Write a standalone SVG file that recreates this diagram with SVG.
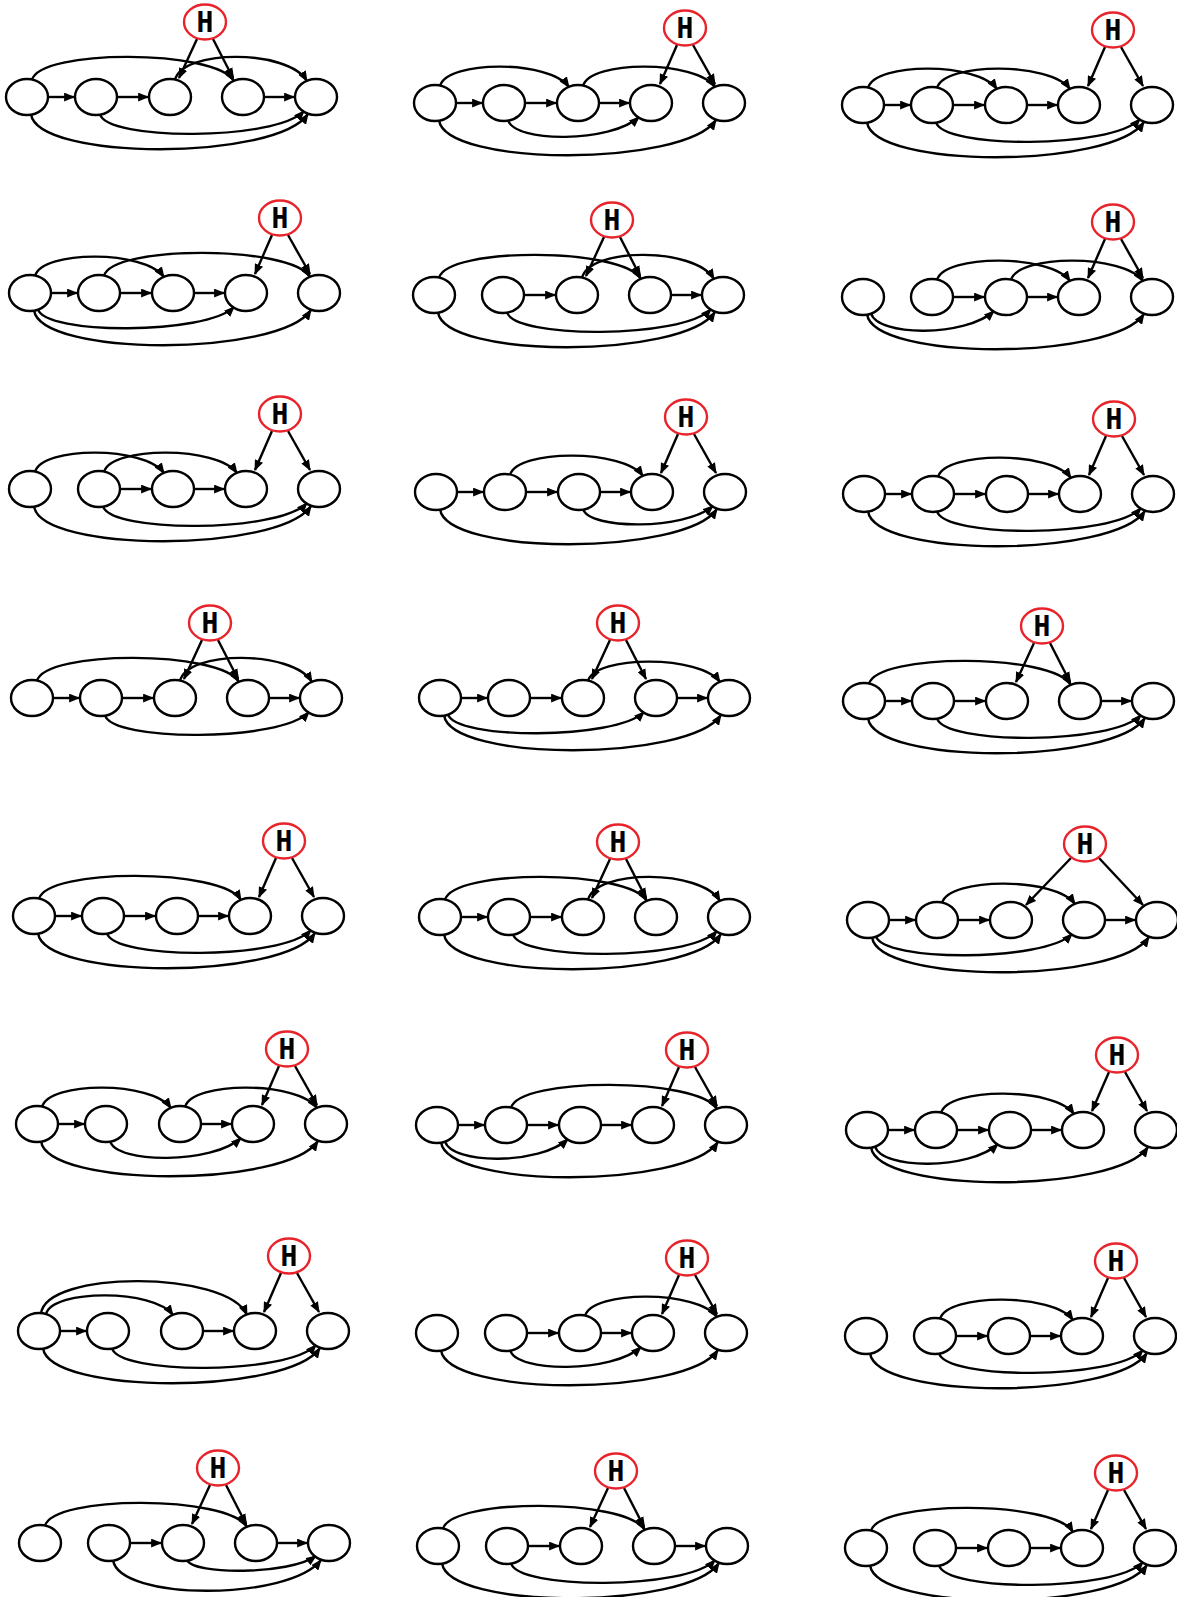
<svg xmlns="http://www.w3.org/2000/svg" width="1177" height="1597" viewBox="0 0 1177 1597">
<style>
.n{fill:#fff;stroke:#000;stroke-width:2.4}
.h{fill:#fff;stroke:#e8232a;stroke-width:2.4}
.e{fill:none;stroke:#000;stroke-width:2.4;marker-end:url(#ah)}
.t{font-family:"DejaVu Sans Mono",monospace;font-weight:bold;font-size:28px;text-anchor:middle;fill:#000}
</style>
<defs>
<marker id="ah" viewBox="0 0 10 8" refX="9" refY="4" markerWidth="11" markerHeight="9" markerUnits="userSpaceOnUse" orient="auto"><path d="M0,0 L10,4 L0,8 z" fill="#000"/></marker>
</defs>
<rect width="1177" height="1597" fill="#fff"/>

<!-- P1 -->
<g id="p1" transform="translate(27,97)">
<g id="p1-edges">
<path class="e" d="M21,0H47"/><path class="e" d="M90,0H121"/><path class="e" d="M237,0H267"/>
<path class="e" d="M170,-58L152,-19"/><path class="e" d="M186,-58L206,-19"/>
<path class="e" d="M5,-17C12,-48 188,-48 207,-16"/><path class="e" d="M148,-17C155,-48 261,-48 280,-16"/>
<path class="e" d="M73,17C79,44 249,44 277,14"/><path class="e" d="M4,17C10,64 249,64 281,17"/>
</g>
<g id="p1-a"><ellipse class="n" cx="0" rx="21" ry="18"/></g>
<g id="p1-b"><ellipse class="n" cx="69" rx="21" ry="18"/></g>
<g id="p1-c"><ellipse class="n" cx="143" rx="21" ry="18"/></g>
<g id="p1-d"><ellipse class="n" cx="216" rx="21" ry="18"/></g>
<g id="p1-e"><ellipse class="n" cx="289" rx="21" ry="18"/></g>
<g id="p1-h"><ellipse class="h" cx="178" cy="-75" rx="21" ry="17.5"/><text class="t" x="178" y="-65">H</text></g>
</g>

<!-- P2 -->
<g id="p2" transform="translate(435,103)">
<g id="p2-edges">
<path class="e" d="M21,0H47"/><path class="e" d="M90,0H121"/><path class="e" d="M164,0H194"/>
<path class="e" d="M242,-58L225,-19"/><path class="e" d="M258,-58L280,-19"/>
<path class="e" d="M5,-17C12,-43 115,-43 134,-16"/><path class="e" d="M148,-17C155,-43 261,-43 280,-16"/>
<path class="e" d="M73,17C79,40 176,40 204,14"/><path class="e" d="M4,17C10,64 249,64 281,17"/>
</g>
<g id="p2-a"><ellipse class="n" cx="0" rx="21" ry="18"/></g>
<g id="p2-b"><ellipse class="n" cx="69" rx="21" ry="18"/></g>
<g id="p2-c"><ellipse class="n" cx="143" rx="21" ry="18"/></g>
<g id="p2-d"><ellipse class="n" cx="216" rx="21" ry="18"/></g>
<g id="p2-e"><ellipse class="n" cx="289" rx="21" ry="18"/></g>
<g id="p2-h"><ellipse class="h" cx="250" cy="-75" rx="21" ry="17.5"/><text class="t" x="250" y="-65">H</text></g>
</g>

<!-- P3 -->
<g id="p3" transform="translate(863,105)">
<g id="p3-edges">
<path class="e" d="M21,0H47"/><path class="e" d="M90,0H121"/><path class="e" d="M164,0H194"/>
<path class="e" d="M242,-58L225,-19"/><path class="e" d="M258,-58L280,-19"/>
<path class="e" d="M5,-17C12,-43 115,-43 134,-16"/><path class="e" d="M74,-17C81,-43 188,-43 207,-16"/>
<path class="e" d="M73,17C79,44 249,44 277,14"/><path class="e" d="M4,17C10,64 249,64 281,17"/>
</g>
<g id="p3-a"><ellipse class="n" cx="0" rx="21" ry="18"/></g>
<g id="p3-b"><ellipse class="n" cx="69" rx="21" ry="18"/></g>
<g id="p3-c"><ellipse class="n" cx="143" rx="21" ry="18"/></g>
<g id="p3-d"><ellipse class="n" cx="216" rx="21" ry="18"/></g>
<g id="p3-e"><ellipse class="n" cx="289" rx="21" ry="18"/></g>
<g id="p3-h"><ellipse class="h" cx="250" cy="-75" rx="21" ry="17.5"/><text class="t" x="250" y="-65">H</text></g>
</g>

<!-- P4 -->
<g id="p4" transform="translate(30,293)">
<g id="p4-edges">
<path class="e" d="M21,0H47"/><path class="e" d="M90,0H121"/><path class="e" d="M164,0H194"/>
<path class="e" d="M242,-58L225,-19"/><path class="e" d="M258,-58L280,-19"/>
<path class="e" d="M5,-17C12,-43 115,-43 134,-16"/><path class="e" d="M74,-17C81,-48 261,-48 280,-16"/>
<path class="e" d="M8,16C14,42 176,42 204,14"/><path class="e" d="M4,17C10,64 249,64 281,17"/>
</g>
<g id="p4-a"><ellipse class="n" cx="0" rx="21" ry="18"/></g>
<g id="p4-b"><ellipse class="n" cx="69" rx="21" ry="18"/></g>
<g id="p4-c"><ellipse class="n" cx="143" rx="21" ry="18"/></g>
<g id="p4-d"><ellipse class="n" cx="216" rx="21" ry="18"/></g>
<g id="p4-e"><ellipse class="n" cx="289" rx="21" ry="18"/></g>
<g id="p4-h"><ellipse class="h" cx="250" cy="-75" rx="21" ry="17.5"/><text class="t" x="250" y="-65">H</text></g>
</g>

<!-- P5 -->
<g id="p5" transform="translate(434,295)">
<g id="p5-edges">
<path class="e" d="M90,0H121"/><path class="e" d="M237,0H267"/>
<path class="e" d="M170,-58L152,-19"/><path class="e" d="M186,-58L206,-19"/>
<path class="e" d="M5,-17C12,-48 188,-48 207,-16"/><path class="e" d="M148,-17C155,-48 261,-48 280,-16"/>
<path class="e" d="M73,17C79,44 249,44 277,14"/><path class="e" d="M4,17C10,64 249,64 281,17"/>
</g>
<g id="p5-a"><ellipse class="n" cx="0" rx="21" ry="18"/></g>
<g id="p5-b"><ellipse class="n" cx="69" rx="21" ry="18"/></g>
<g id="p5-c"><ellipse class="n" cx="143" rx="21" ry="18"/></g>
<g id="p5-d"><ellipse class="n" cx="216" rx="21" ry="18"/></g>
<g id="p5-e"><ellipse class="n" cx="289" rx="21" ry="18"/></g>
<g id="p5-h"><ellipse class="h" cx="178" cy="-75" rx="21" ry="17.5"/><text class="t" x="178" y="-65">H</text></g>
</g>

<!-- P6 -->
<g id="p6" transform="translate(863,297)">
<g id="p6-edges">
<path class="e" d="M90,0H121"/><path class="e" d="M164,0H194"/>
<path class="e" d="M242,-58L225,-19"/><path class="e" d="M258,-58L280,-19"/>
<path class="e" d="M74,-17C81,-43 188,-43 207,-16"/><path class="e" d="M148,-17C155,-43 261,-43 280,-16"/>
<path class="e" d="M8,16C14,40 103,40 131,14"/><path class="e" d="M4,17C10,64 249,64 281,17"/>
</g>
<g id="p6-a"><ellipse class="n" cx="0" rx="21" ry="18"/></g>
<g id="p6-b"><ellipse class="n" cx="69" rx="21" ry="18"/></g>
<g id="p6-c"><ellipse class="n" cx="143" rx="21" ry="18"/></g>
<g id="p6-d"><ellipse class="n" cx="216" rx="21" ry="18"/></g>
<g id="p6-e"><ellipse class="n" cx="289" rx="21" ry="18"/></g>
<g id="p6-h"><ellipse class="h" cx="250" cy="-75" rx="21" ry="17.5"/><text class="t" x="250" y="-65">H</text></g>
</g>

<!-- P7 -->
<g id="p7" transform="translate(30,489)">
<g id="p7-edges">
<path class="e" d="M90,0H121"/><path class="e" d="M164,0H194"/>
<path class="e" d="M242,-58L225,-19"/><path class="e" d="M258,-58L280,-19"/>
<path class="e" d="M5,-17C12,-43 115,-43 134,-16"/><path class="e" d="M74,-17C81,-43 188,-43 207,-16"/>
<path class="e" d="M73,17C79,44 249,44 277,14"/><path class="e" d="M4,17C10,64 249,64 281,17"/>
</g>
<g id="p7-a"><ellipse class="n" cx="0" rx="21" ry="18"/></g>
<g id="p7-b"><ellipse class="n" cx="69" rx="21" ry="18"/></g>
<g id="p7-c"><ellipse class="n" cx="143" rx="21" ry="18"/></g>
<g id="p7-d"><ellipse class="n" cx="216" rx="21" ry="18"/></g>
<g id="p7-e"><ellipse class="n" cx="289" rx="21" ry="18"/></g>
<g id="p7-h"><ellipse class="h" cx="250" cy="-75" rx="21" ry="17.5"/><text class="t" x="250" y="-65">H</text></g>
</g>

<!-- P8 -->
<g id="p8" transform="translate(436,492)">
<g id="p8-edges">
<path class="e" d="M21,0H47"/><path class="e" d="M90,0H121"/><path class="e" d="M164,0H194"/>
<path class="e" d="M242,-58L225,-19"/><path class="e" d="M258,-58L280,-19"/>
<path class="e" d="M74,-17C81,-43 188,-43 207,-16"/>
<path class="e" d="M147,17C153,38 249,38 277,14"/><path class="e" d="M4,17C10,64 249,64 281,17"/>
</g>
<g id="p8-a"><ellipse class="n" cx="0" rx="21" ry="18"/></g>
<g id="p8-b"><ellipse class="n" cx="69" rx="21" ry="18"/></g>
<g id="p8-c"><ellipse class="n" cx="143" rx="21" ry="18"/></g>
<g id="p8-d"><ellipse class="n" cx="216" rx="21" ry="18"/></g>
<g id="p8-e"><ellipse class="n" cx="289" rx="21" ry="18"/></g>
<g id="p8-h"><ellipse class="h" cx="250" cy="-75" rx="21" ry="17.5"/><text class="t" x="250" y="-65">H</text></g>
</g>

<!-- P9 -->
<g id="p9" transform="translate(864,494)">
<g id="p9-edges">
<path class="e" d="M21,0H47"/><path class="e" d="M90,0H121"/><path class="e" d="M164,0H194"/>
<path class="e" d="M242,-58L225,-19"/><path class="e" d="M258,-58L280,-19"/>
<path class="e" d="M74,-17C81,-43 188,-43 207,-16"/>
<path class="e" d="M73,17C79,44 249,44 277,14"/><path class="e" d="M4,17C10,64 249,64 281,17"/>
</g>
<g id="p9-a"><ellipse class="n" cx="0" rx="21" ry="18"/></g>
<g id="p9-b"><ellipse class="n" cx="69" rx="21" ry="18"/></g>
<g id="p9-c"><ellipse class="n" cx="143" rx="21" ry="18"/></g>
<g id="p9-d"><ellipse class="n" cx="216" rx="21" ry="18"/></g>
<g id="p9-e"><ellipse class="n" cx="289" rx="21" ry="18"/></g>
<g id="p9-h"><ellipse class="h" cx="250" cy="-75" rx="21" ry="17.5"/><text class="t" x="250" y="-65">H</text></g>
</g>

<!-- P10 -->
<g id="p10" transform="translate(32,698)">
<g id="p10-edges">
<path class="e" d="M21,0H47"/><path class="e" d="M90,0H121"/><path class="e" d="M237,0H267"/>
<path class="e" d="M170,-58L152,-19"/><path class="e" d="M186,-58L206,-19"/>
<path class="e" d="M5,-17C12,-48 188,-48 207,-16"/><path class="e" d="M148,-17C155,-48 261,-48 280,-16"/>
<path class="e" d="M73,17C79,44 249,44 277,14"/>
</g>
<g id="p10-a"><ellipse class="n" cx="0" rx="21" ry="18"/></g>
<g id="p10-b"><ellipse class="n" cx="69" rx="21" ry="18"/></g>
<g id="p10-c"><ellipse class="n" cx="143" rx="21" ry="18"/></g>
<g id="p10-d"><ellipse class="n" cx="216" rx="21" ry="18"/></g>
<g id="p10-e"><ellipse class="n" cx="289" rx="21" ry="18"/></g>
<g id="p10-h"><ellipse class="h" cx="178" cy="-75" rx="21" ry="17.5"/><text class="t" x="178" y="-65">H</text></g>
</g>

<!-- P11 -->
<g id="p11" transform="translate(440,698)">
<g id="p11-edges">
<path class="e" d="M21,0H47"/><path class="e" d="M90,0H121"/><path class="e" d="M237,0H267"/>
<path class="e" d="M170,-58L152,-19"/><path class="e" d="M186,-58L206,-19"/>
<path class="e" d="M148,-17C155,-43 261,-43 280,-16"/>
<path class="e" d="M8,16C14,42 176,42 204,14"/><path class="e" d="M4,17C10,64 249,64 281,17"/>
</g>
<g id="p11-a"><ellipse class="n" cx="0" rx="21" ry="18"/></g>
<g id="p11-b"><ellipse class="n" cx="69" rx="21" ry="18"/></g>
<g id="p11-c"><ellipse class="n" cx="143" rx="21" ry="18"/></g>
<g id="p11-d"><ellipse class="n" cx="216" rx="21" ry="18"/></g>
<g id="p11-e"><ellipse class="n" cx="289" rx="21" ry="18"/></g>
<g id="p11-h"><ellipse class="h" cx="178" cy="-75" rx="21" ry="17.5"/><text class="t" x="178" y="-65">H</text></g>
</g>

<!-- P12 -->
<g id="p12" transform="translate(864,701)">
<g id="p12-edges">
<path class="e" d="M21,0H47"/><path class="e" d="M90,0H121"/><path class="e" d="M237,0H267"/>
<path class="e" d="M170,-58L152,-19"/><path class="e" d="M186,-58L206,-19"/>
<path class="e" d="M5,-17C12,-48 188,-48 207,-16"/>
<path class="e" d="M73,17C79,44 249,44 277,14"/><path class="e" d="M4,17C10,64 249,64 281,17"/>
</g>
<g id="p12-a"><ellipse class="n" cx="0" rx="21" ry="18"/></g>
<g id="p12-b"><ellipse class="n" cx="69" rx="21" ry="18"/></g>
<g id="p12-c"><ellipse class="n" cx="143" rx="21" ry="18"/></g>
<g id="p12-d"><ellipse class="n" cx="216" rx="21" ry="18"/></g>
<g id="p12-e"><ellipse class="n" cx="289" rx="21" ry="18"/></g>
<g id="p12-h"><ellipse class="h" cx="178" cy="-75" rx="21" ry="17.5"/><text class="t" x="178" y="-65">H</text></g>
</g>

<!-- P13 -->
<g id="p13" transform="translate(34,916)">
<g id="p13-edges">
<path class="e" d="M21,0H47"/><path class="e" d="M90,0H121"/><path class="e" d="M164,0H194"/>
<path class="e" d="M242,-58L225,-19"/><path class="e" d="M258,-58L280,-19"/>
<path class="e" d="M5,-17C12,-48 188,-48 207,-16"/>
<path class="e" d="M73,17C79,44 249,44 277,14"/><path class="e" d="M4,17C10,64 249,64 281,17"/>
</g>
<g id="p13-a"><ellipse class="n" cx="0" rx="21" ry="18"/></g>
<g id="p13-b"><ellipse class="n" cx="69" rx="21" ry="18"/></g>
<g id="p13-c"><ellipse class="n" cx="143" rx="21" ry="18"/></g>
<g id="p13-d"><ellipse class="n" cx="216" rx="21" ry="18"/></g>
<g id="p13-e"><ellipse class="n" cx="289" rx="21" ry="18"/></g>
<g id="p13-h"><ellipse class="h" cx="250" cy="-75" rx="21" ry="17.5"/><text class="t" x="250" y="-65">H</text></g>
</g>

<!-- P14 -->
<g id="p14" transform="translate(440,917)">
<g id="p14-edges">
<path class="e" d="M21,0H47"/><path class="e" d="M90,0H121"/>
<path class="e" d="M170,-58L152,-19"/><path class="e" d="M186,-58L206,-19"/>
<path class="e" d="M5,-17C12,-48 188,-48 207,-16"/><path class="e" d="M148,-17C155,-48 261,-48 280,-16"/>
<path class="e" d="M73,17C79,44 249,44 277,14"/><path class="e" d="M4,17C10,64 249,64 281,17"/>
</g>
<g id="p14-a"><ellipse class="n" cx="0" rx="21" ry="18"/></g>
<g id="p14-b"><ellipse class="n" cx="69" rx="21" ry="18"/></g>
<g id="p14-c"><ellipse class="n" cx="143" rx="21" ry="18"/></g>
<g id="p14-d"><ellipse class="n" cx="216" rx="21" ry="18"/></g>
<g id="p14-e"><ellipse class="n" cx="289" rx="21" ry="18"/></g>
<g id="p14-h"><ellipse class="h" cx="178" cy="-75" rx="21" ry="17.5"/><text class="t" x="178" y="-65">H</text></g>
</g>

<!-- P15 -->
<g id="p15" transform="translate(868,920)">
<g id="p15-edges">
<path class="e" d="M21,0H47"/><path class="e" d="M90,0H121"/><path class="e" d="M237,0H267"/>
<path class="e" d="M203,-62L158,-15"/><path class="e" d="M231,-62L275,-15"/>
<path class="e" d="M74,-17C81,-43 188,-43 207,-16"/>
<path class="e" d="M8,16C14,42 176,42 204,14"/><path class="e" d="M4,17C10,64 249,64 281,17"/>
</g>
<g id="p15-a"><ellipse class="n" cx="0" rx="21" ry="18"/></g>
<g id="p15-b"><ellipse class="n" cx="69" rx="21" ry="18"/></g>
<g id="p15-c"><ellipse class="n" cx="143" rx="21" ry="18"/></g>
<g id="p15-d"><ellipse class="n" cx="216" rx="21" ry="18"/></g>
<g id="p15-e"><ellipse class="n" cx="289" rx="21" ry="18"/></g>
<g id="p15-h"><ellipse class="h" cx="217" cy="-76" rx="21" ry="17.5"/><text class="t" x="217" y="-66">H</text></g>
</g>

<!-- P16 -->
<g id="p16" transform="translate(37,1124)">
<g id="p16-edges">
<path class="e" d="M21,0H47"/><path class="e" d="M164,0H194"/>
<path class="e" d="M242,-58L225,-19"/><path class="e" d="M258,-58L280,-19"/>
<path class="e" d="M5,-17C12,-43 115,-43 134,-16"/><path class="e" d="M148,-17C155,-43 261,-43 280,-16"/>
<path class="e" d="M73,17C79,40 176,40 204,14"/><path class="e" d="M4,17C10,64 249,64 281,17"/>
</g>
<g id="p16-a"><ellipse class="n" cx="0" rx="21" ry="18"/></g>
<g id="p16-b"><ellipse class="n" cx="69" rx="21" ry="18"/></g>
<g id="p16-c"><ellipse class="n" cx="143" rx="21" ry="18"/></g>
<g id="p16-d"><ellipse class="n" cx="216" rx="21" ry="18"/></g>
<g id="p16-e"><ellipse class="n" cx="289" rx="21" ry="18"/></g>
<g id="p16-h"><ellipse class="h" cx="250" cy="-75" rx="21" ry="17.5"/><text class="t" x="250" y="-65">H</text></g>
</g>

<!-- P17 -->
<g id="p17" transform="translate(437,1125)">
<g id="p17-edges">
<path class="e" d="M21,0H47"/><path class="e" d="M90,0H121"/><path class="e" d="M164,0H194"/>
<path class="e" d="M242,-58L225,-19"/><path class="e" d="M258,-58L280,-19"/>
<path class="e" d="M74,-17C81,-48 261,-48 280,-16"/>
<path class="e" d="M8,16C14,40 103,40 131,14"/><path class="e" d="M4,17C10,64 249,64 281,17"/>
</g>
<g id="p17-a"><ellipse class="n" cx="0" rx="21" ry="18"/></g>
<g id="p17-b"><ellipse class="n" cx="69" rx="21" ry="18"/></g>
<g id="p17-c"><ellipse class="n" cx="143" rx="21" ry="18"/></g>
<g id="p17-d"><ellipse class="n" cx="216" rx="21" ry="18"/></g>
<g id="p17-e"><ellipse class="n" cx="289" rx="21" ry="18"/></g>
<g id="p17-h"><ellipse class="h" cx="250" cy="-75" rx="21" ry="17.5"/><text class="t" x="250" y="-65">H</text></g>
</g>

<!-- P18 -->
<g id="p18" transform="translate(867,1130)">
<g id="p18-edges">
<path class="e" d="M21,0H47"/><path class="e" d="M90,0H121"/><path class="e" d="M164,0H194"/>
<path class="e" d="M242,-58L225,-19"/><path class="e" d="M258,-58L280,-19"/>
<path class="e" d="M74,-17C81,-43 188,-43 207,-16"/>
<path class="e" d="M8,16C14,40 103,40 131,14"/><path class="e" d="M4,17C10,64 249,64 281,17"/>
</g>
<g id="p18-a"><ellipse class="n" cx="0" rx="21" ry="18"/></g>
<g id="p18-b"><ellipse class="n" cx="69" rx="21" ry="18"/></g>
<g id="p18-c"><ellipse class="n" cx="143" rx="21" ry="18"/></g>
<g id="p18-d"><ellipse class="n" cx="216" rx="21" ry="18"/></g>
<g id="p18-e"><ellipse class="n" cx="289" rx="21" ry="18"/></g>
<g id="p18-h"><ellipse class="h" cx="250" cy="-75" rx="21" ry="17.5"/><text class="t" x="250" y="-65">H</text></g>
</g>

<!-- P19 -->
<g id="p19" transform="translate(39,1331)">
<g id="p19-edges">
<path class="e" d="M21,0H47"/><path class="e" d="M164,0H194"/>
<path class="e" d="M242,-58L225,-19"/><path class="e" d="M258,-58L280,-19"/>
<path class="e" d="M7,-17C14,-42 115,-42 134,-16"/><path class="e" d="M2,-17C6,-61 188,-61 208,-16"/>
<path class="e" d="M73,17C79,44 249,44 277,14"/><path class="e" d="M4,17C10,64 249,64 281,17"/>
</g>
<g id="p19-a"><ellipse class="n" cx="0" rx="21" ry="18"/></g>
<g id="p19-b"><ellipse class="n" cx="69" rx="21" ry="18"/></g>
<g id="p19-c"><ellipse class="n" cx="143" rx="21" ry="18"/></g>
<g id="p19-d"><ellipse class="n" cx="216" rx="21" ry="18"/></g>
<g id="p19-e"><ellipse class="n" cx="289" rx="21" ry="18"/></g>
<g id="p19-h"><ellipse class="h" cx="250" cy="-75" rx="21" ry="17.5"/><text class="t" x="250" y="-65">H</text></g>
</g>

<!-- P20 -->
<g id="p20" transform="translate(437,1333)">
<g id="p20-edges">
<path class="e" d="M90,0H121"/><path class="e" d="M164,0H194"/>
<path class="e" d="M242,-58L225,-19"/><path class="e" d="M258,-58L280,-19"/>
<path class="e" d="M148,-17C155,-43 261,-43 280,-16"/>
<path class="e" d="M73,17C79,40 176,40 204,14"/><path class="e" d="M4,17C10,64 249,64 281,17"/>
</g>
<g id="p20-a"><ellipse class="n" cx="0" rx="21" ry="18"/></g>
<g id="p20-b"><ellipse class="n" cx="69" rx="21" ry="18"/></g>
<g id="p20-c"><ellipse class="n" cx="143" rx="21" ry="18"/></g>
<g id="p20-d"><ellipse class="n" cx="216" rx="21" ry="18"/></g>
<g id="p20-e"><ellipse class="n" cx="289" rx="21" ry="18"/></g>
<g id="p20-h"><ellipse class="h" cx="250" cy="-75" rx="21" ry="17.5"/><text class="t" x="250" y="-65">H</text></g>
</g>

<!-- P21 -->
<g id="p21" transform="translate(866,1336)">
<g id="p21-edges">
<path class="e" d="M90,0H121"/><path class="e" d="M164,0H194"/>
<path class="e" d="M242,-58L225,-19"/><path class="e" d="M258,-58L280,-19"/>
<path class="e" d="M74,-17C81,-43 188,-43 207,-16"/>
<path class="e" d="M73,17C79,44 249,44 277,14"/><path class="e" d="M4,17C10,64 249,64 281,17"/>
</g>
<g id="p21-a"><ellipse class="n" cx="0" rx="21" ry="18"/></g>
<g id="p21-b"><ellipse class="n" cx="69" rx="21" ry="18"/></g>
<g id="p21-c"><ellipse class="n" cx="143" rx="21" ry="18"/></g>
<g id="p21-d"><ellipse class="n" cx="216" rx="21" ry="18"/></g>
<g id="p21-e"><ellipse class="n" cx="289" rx="21" ry="18"/></g>
<g id="p21-h"><ellipse class="h" cx="250" cy="-75" rx="21" ry="17.5"/><text class="t" x="250" y="-65">H</text></g>
</g>

<!-- P22 -->
<g id="p22" transform="translate(40,1543)">
<g id="p22-edges">
<path class="e" d="M90,0H121"/><path class="e" d="M237,0H267"/>
<path class="e" d="M170,-58L152,-19"/><path class="e" d="M186,-58L206,-19"/>
<path class="e" d="M5,-17C12,-48 188,-48 207,-16"/>
<path class="e" d="M147,17C153,32 249,32 276,13"/><path class="e" d="M73,17C79,58 249,58 281,17"/>
</g>
<g id="p22-a"><ellipse class="n" cx="0" rx="21" ry="18"/></g>
<g id="p22-b"><ellipse class="n" cx="69" rx="21" ry="18"/></g>
<g id="p22-c"><ellipse class="n" cx="143" rx="21" ry="18"/></g>
<g id="p22-d"><ellipse class="n" cx="216" rx="21" ry="18"/></g>
<g id="p22-e"><ellipse class="n" cx="289" rx="21" ry="18"/></g>
<g id="p22-h"><ellipse class="h" cx="178" cy="-75" rx="21" ry="17.5"/><text class="t" x="178" y="-65">H</text></g>
</g>

<!-- P23 -->
<g id="p23" transform="translate(438,1546)">
<g id="p23-edges">
<path class="e" d="M90,0H121"/><path class="e" d="M237,0H267"/>
<path class="e" d="M170,-58L152,-19"/><path class="e" d="M186,-58L206,-19"/>
<path class="e" d="M5,-17C12,-48 188,-48 207,-16"/>
<path class="e" d="M73,17C79,44 249,44 277,14"/><path class="e" d="M4,17C10,64 249,64 281,17"/>
</g>
<g id="p23-a"><ellipse class="n" cx="0" rx="21" ry="18"/></g>
<g id="p23-b"><ellipse class="n" cx="69" rx="21" ry="18"/></g>
<g id="p23-c"><ellipse class="n" cx="143" rx="21" ry="18"/></g>
<g id="p23-d"><ellipse class="n" cx="216" rx="21" ry="18"/></g>
<g id="p23-e"><ellipse class="n" cx="289" rx="21" ry="18"/></g>
<g id="p23-h"><ellipse class="h" cx="178" cy="-75" rx="21" ry="17.5"/><text class="t" x="178" y="-65">H</text></g>
</g>

<!-- P24 -->
<g id="p24" transform="translate(866,1548)">
<g id="p24-edges">
<path class="e" d="M90,0H121"/><path class="e" d="M164,0H194"/>
<path class="e" d="M242,-58L225,-19"/><path class="e" d="M258,-58L280,-19"/>
<path class="e" d="M5,-17C12,-48 188,-48 207,-16"/>
<path class="e" d="M73,17C79,44 249,44 277,14"/><path class="e" d="M4,17C10,64 249,64 281,17"/>
</g>
<g id="p24-a"><ellipse class="n" cx="0" rx="21" ry="18"/></g>
<g id="p24-b"><ellipse class="n" cx="69" rx="21" ry="18"/></g>
<g id="p24-c"><ellipse class="n" cx="143" rx="21" ry="18"/></g>
<g id="p24-d"><ellipse class="n" cx="216" rx="21" ry="18"/></g>
<g id="p24-e"><ellipse class="n" cx="289" rx="21" ry="18"/></g>
<g id="p24-h"><ellipse class="h" cx="250" cy="-75" rx="21" ry="17.5"/><text class="t" x="250" y="-65">H</text></g>
</g>
</svg>
